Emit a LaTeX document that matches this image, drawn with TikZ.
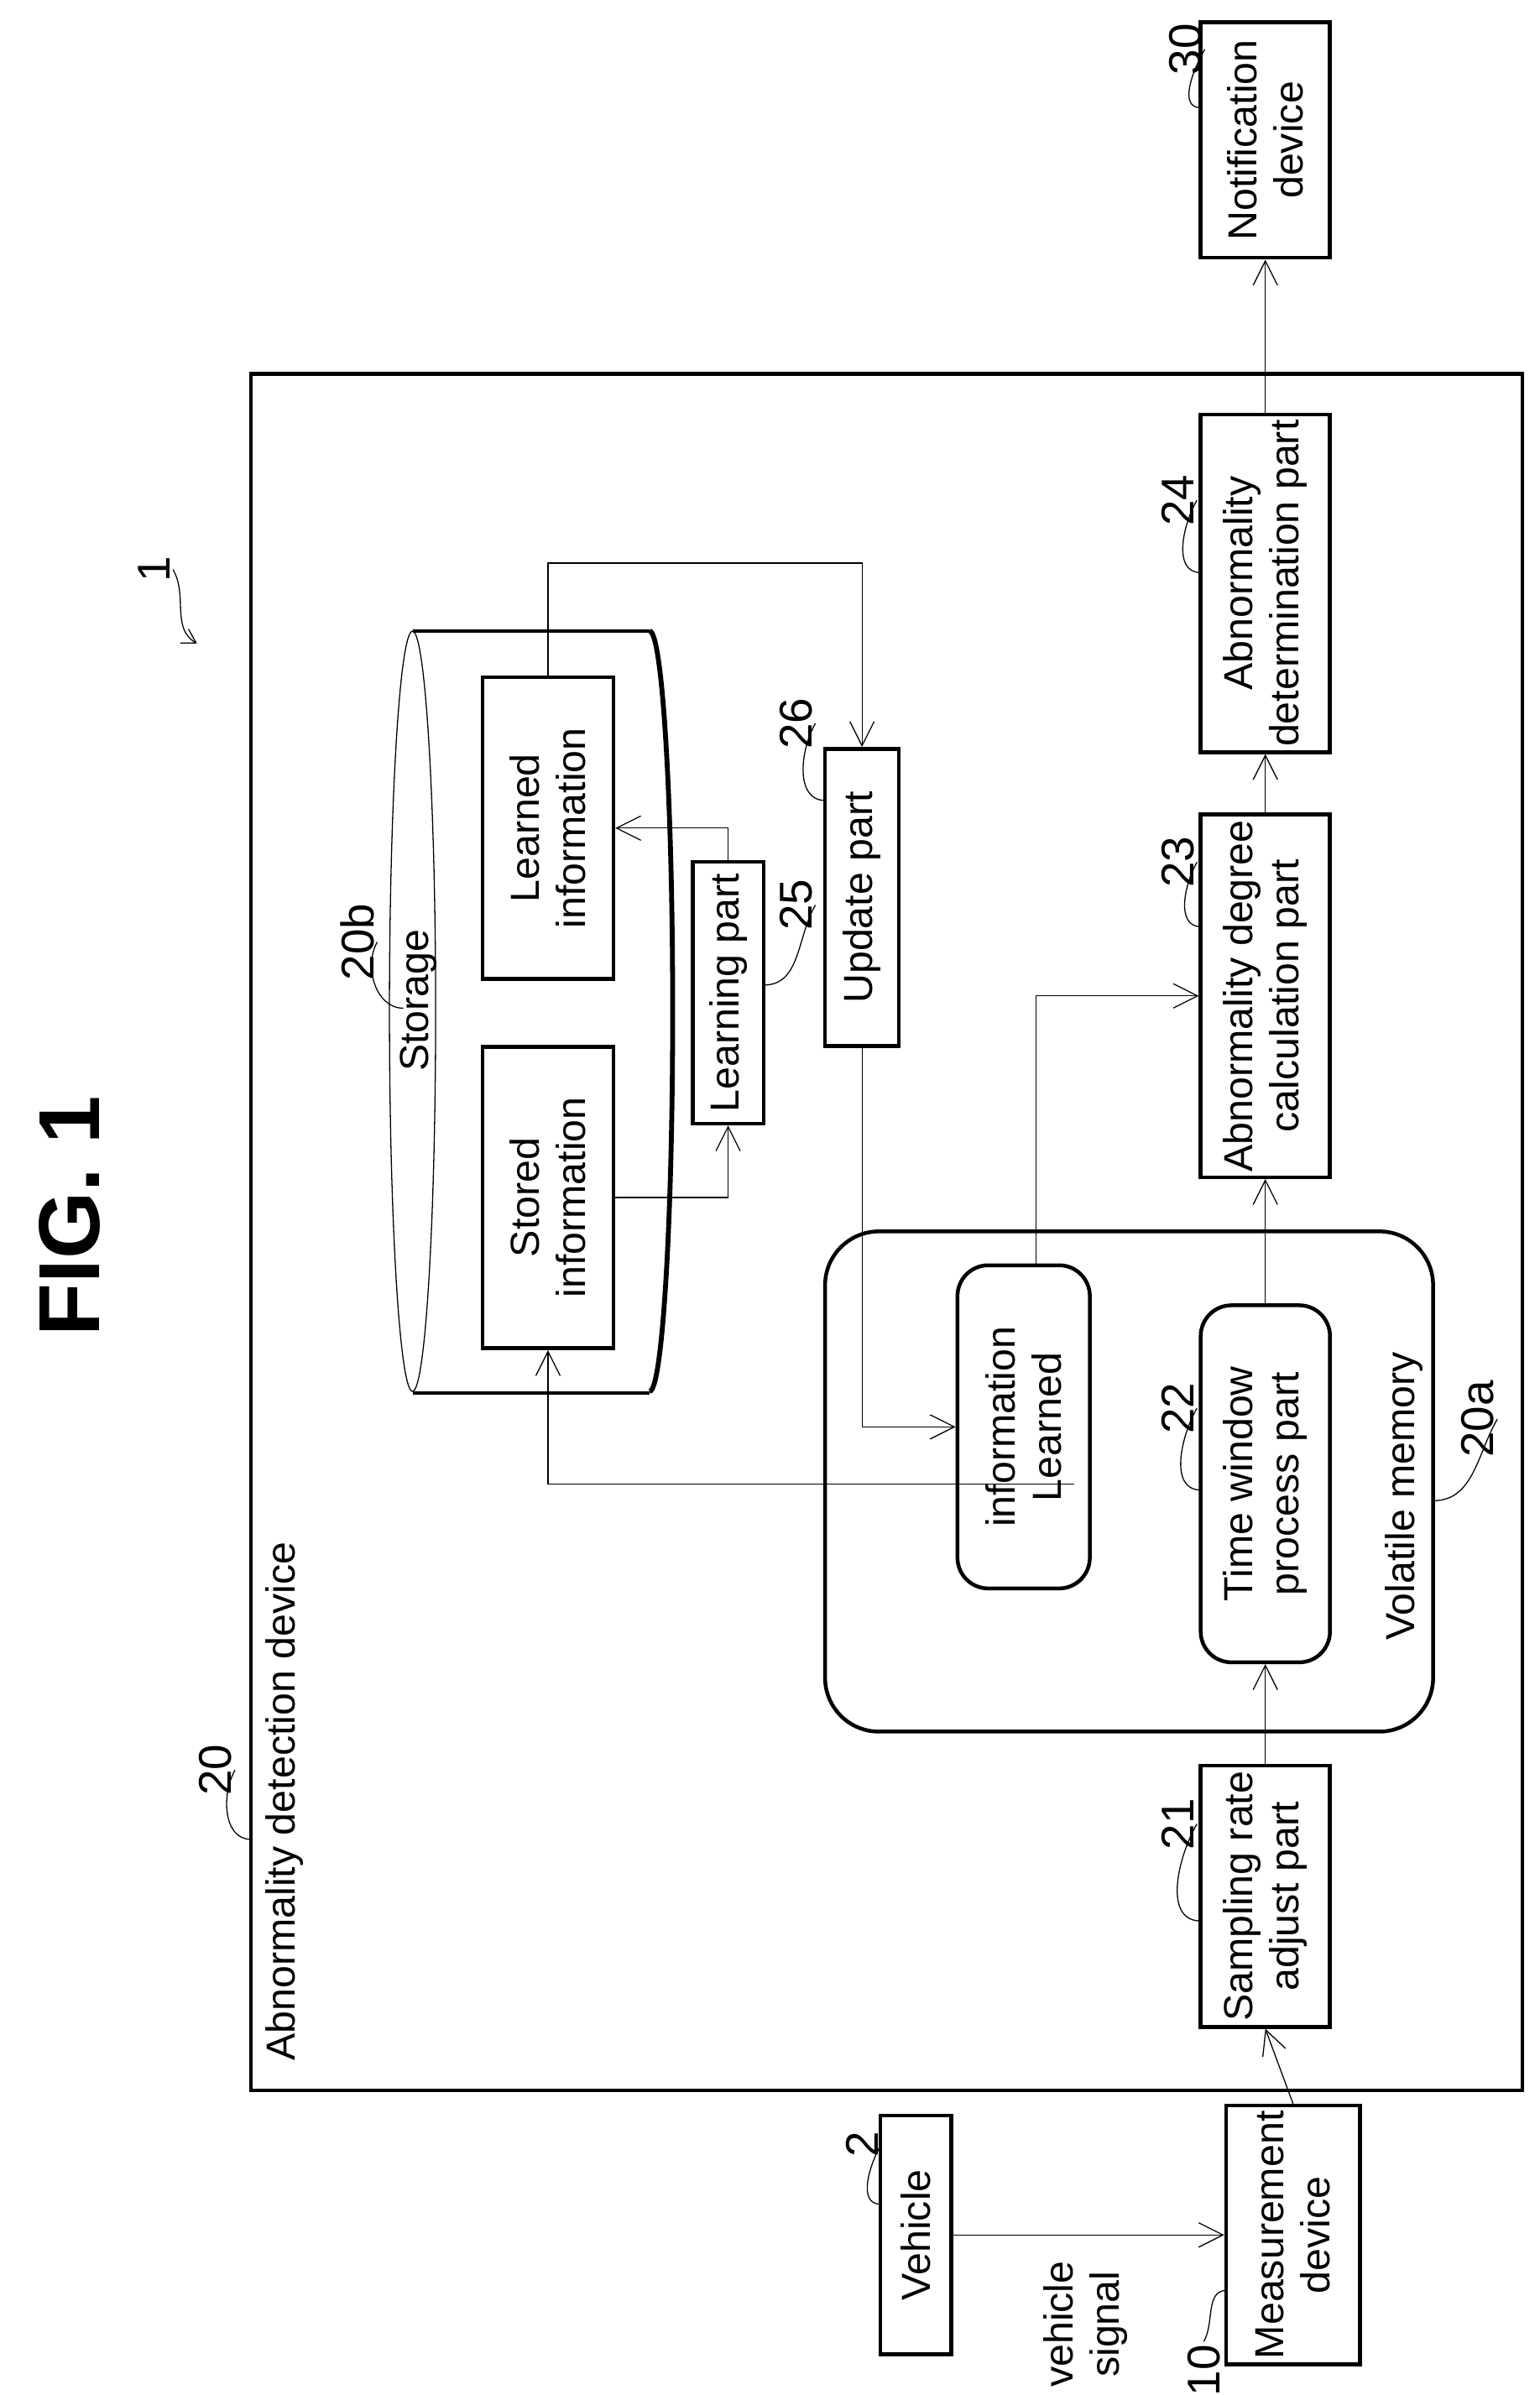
\documentclass[tikz,border=0pt]{standalone}
\usepackage{fontspec}
\setmainfont{Liberation Sans}
\usetikzlibrary{arrows.meta,positioning,calc}

\begin{document}
\begin{tikzpicture}[x=0.02cm, y=-0.02cm,
    font=\fontsize{15}{17}\selectfont,
    >={Straight Barb[length=9pt,width=9pt]},
    box/.style={draw=black, line width=1.4pt, rotate=90, align=center, inner sep=2pt},
    rbox/.style={box, rounded corners=0.4cm},
    num/.style={rotate=90, font=\fontsize{17}{19}\selectfont, inner sep=1pt},
    lead/.style={thin}]

    \useasboundingbox (0,0) rectangle (1000,1556);

    % title
    \node[rotate=90, font=\bfseries\fontsize{32}{36}\selectfont] (fig) at (45,790) {FIG. 1};
    \node[num] (l1) at (100,370) {1};
    \coordinate (c1) at (128,418);
    \draw[lead, ->, >={Straight Barb[length=5pt,width=6pt]}] (l1.south) to[out=-60, in=150] (c1);

    % outer device and volatile memory
    \draw[line width=1.4pt] (163,243) rectangle (989,1358);
    \node[rotate=90, anchor=west] (t20) at (185,1345) {Abnormality detection device};
    \draw[line width=1.4pt, rounded corners=0.7cm] (536,800) rectangle (931,1125);
    \node[rotate=90, anchor=west] (t20a) at (912,1072) {Volatile memory};

    % storage cylinder
    \draw[line width=1.4pt] (268,410) -- (422,410);
    \draw[line width=1.4pt] (268,905) -- (422,905);
    \draw[thin] (268,657) ellipse [x radius=0.3cm, y radius=4.94cm];
    \draw[line width=1.8pt] (422,410) arc[start angle=-90, end angle=90, x radius=0.3cm, y radius=-4.94cm];
    \node[rotate=90] (t20b) at (272,650) {Storage};

    % blocks
    \node[box, minimum width=3.1cm, minimum height=0.92cm] (veh) at (595,1452) {Vehicle};
    \node[box, minimum width=3.1cm, minimum height=1.74cm] (meas) at (840,1452) {Measurement\\device};
    \node[box, minimum width=3.1cm, minimum height=1.68cm] (samp) at (822,1232) {Sampling rate\\adjust part};
    \node[rbox, minimum width=4.64cm, minimum height=1.68cm] (tw) at (822,964) {Time window\\process part};
    \node[rbox, minimum width=4.2cm, minimum height=1.72cm] (vlearn) at (665,927) {information\\Learned};
    \node[box, minimum width=4.4cm, minimum height=1.68cm] (abdeg) at (822,647) {Abnormality degree\\calculation part};
    \node[box, minimum width=4.16cm, minimum height=1.68cm] (abdet) at (822,379) {Abnormality\\determination part};
    \node[box, minimum width=3.06cm, minimum height=1.68cm] (notif) at (822,91) {Notification\\device};
    \node[box, minimum width=3.92cm, minimum height=1.7cm] (learned) at (356,538) {Learned\\information};
    \node[box, minimum width=3.92cm, minimum height=1.7cm] (stored) at (356,778) {Stored\\information};
    \node[box, minimum width=3.4cm, minimum height=0.92cm] (learn) at (473,645) {Learning part};
    \node[box, minimum width=3.86cm, minimum height=0.96cm] (upd) at (560,583) {Update part};

    \node[rotate=90, align=center] (sig) at (705,1510) {vehicle\\signal};

    % connectors
    \draw[->] (veh.south) -- (meas.north);
    \draw[->] (meas.east) -- (samp.west);
    \draw[->] (samp.east) -- (tw.west);
    \draw[->] (tw.east) -- (abdeg.west);
    \draw[->] (abdeg.east) -- (abdet.west);
    \draw[->] (abdet.east) -- (notif.west);
    \draw[->] ([xshift=0.16cm]vlearn.east) |- (abdeg.north);
    \draw[->] ([xshift=-1.62cm]tw.north) -| (stored.west);
    \draw[->] (stored.south) -| (learn.west);
    \draw[->] (learn.east) |- (learned.south);
    \draw[->] (learned.east) -- ++(0,-73) -| (upd.east);
    \draw[->] (upd.west) |- (vlearn.north);

    % reference numerals
    \node[num] (l20) at (140,1150) {20};
    \node[num] (l21) at (765,1185) {21};
    \node[num] (l22) at (765,915) {22};
    \node[num] (l23) at (765,560) {23};
    \node[num] (l24) at (765,325) {24};
    \node[num] (l30) at (770,32) {30};
    \node[num] (l25) at (517,588) {25};
    \node[num] (l26) at (517,470) {26};
    \node[num] (l20a) at (960,922) {20a};
    \node[num] (l20b) at (232,612) {20b};
    \node[num] (l2) at (560,1393) {2};
    \node[num] (l10) at (782,1540) {10};

    \coordinate (c20) at (163,1195);
    \coordinate (c21) at (780,1248);
    \coordinate (c22) at (780,968);
    \coordinate (c23) at (780,602);
    \coordinate (c24) at (780,372);
    \coordinate (c30) at (780,70);
    \coordinate (c25) at (496,640);
    \coordinate (c26) at (536,520);
    \coordinate (c20a) at (931,975);
    \coordinate (c20b) at (262,655);
    \coordinate (c2) at (572,1432);
    \coordinate (c10) at (797,1488);

    \foreach \n in {20,21,22,23,24,30,26,20b,2}
        \draw[lead] (l\n.south) to[out=-120, in=180] (c\n);
    \draw[lead] (l25.south) to[out=-120, in=0] (c25);
    \draw[lead] (l20a.south) to[out=-120, in=0] (c20a);
    \draw[lead] (l10.east) to[out=60, in=180] (c10);

\end{tikzpicture}
\end{document}
